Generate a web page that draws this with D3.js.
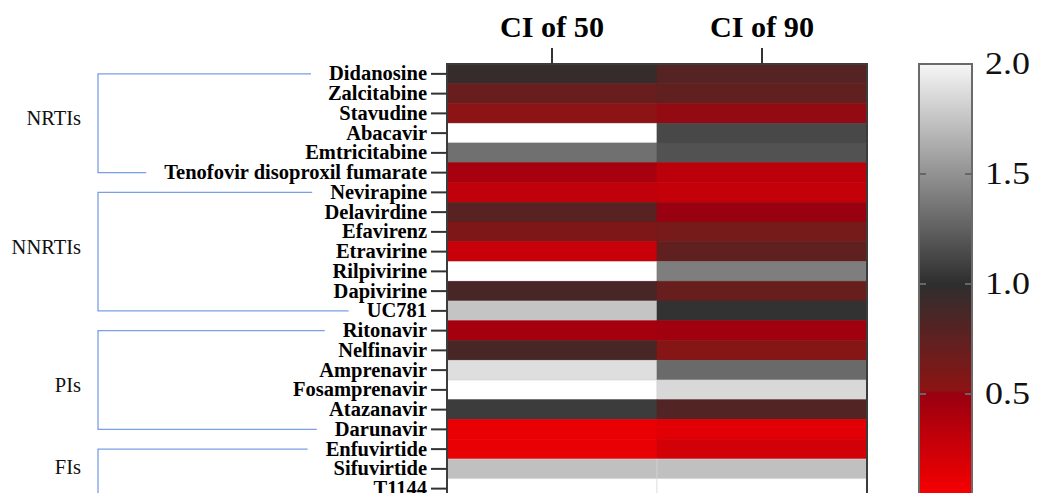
<!DOCTYPE html>
<html lang="en">
<head>
  <meta charset="UTF-8">
  <title>CI50 / CI90 heatmap</title>
  <script src="https://d3js.org/d3.v7.min.js"></script>
  <style>
    body { margin: 0; background: #fff; }
    svg { display: block; font-family: 'Liberation Serif', 'Times New Roman', serif; }
  </style>
</head>
<body>
  <svg width="1037" height="493"></svg>
  <script>
    const width = 1037, height = 493;

    // rows of the heatmap (top to bottom)
    const drugs = ["Didanosine", "Zalcitabine", "Stavudine", "Abacavir", "Emtricitabine",
      "Tenofovir disoproxil fumarate", "Nevirapine", "Delavirdine", "Efavirenz", "Etravirine",
      "Rilpivirine", "Dapivirine", "UC781", "Ritonavir", "Nelfinavir", "Amprenavir",
      "Fosamprenavir", "Atazanavir", "Darunavir", "Enfuvirtide", "Sifuvirtide", "T1144"];
    const columns = ["CI of 50", "CI of 90"];
    const ci50 = [0.96, 0.70, 0.52, 2.1, 1.33, 0.43, 0.31, 0.78, 0.59, 0.27,
      2.1, 0.86, 1.75, 0.44, 0.86, 1.88, 2.1, 1.07, 0.11, 0.11, 1.73, 2.1];
    const ci90 = [0.80, 0.74, 0.51, 1.13, 1.18, 0.33, 0.29, 0.50, 0.63, 0.74,
      1.40, 0.70, 1.02, 0.46, 0.55, 1.30, 1.85, 0.81, 0.15, 0.22, 1.73, 2.1];

    // drug classes: first row, last row (FIs runs past the visible rows), label row
    const groupNames = ["NRTIs", "NNRTIs", "PIs", "FIs"];
    const groupFirst = [0, 6, 13, 19];
    const groupLast = [5, 12, 18, 23];
    const groupLabelRow = [2.2, 8.75, 15.75, 19.9];

    const colorTicks = [0.5, 1.0, 1.5, 2.0];

    const color = d3.scaleLinear()
      .domain([0, 0.5, 0.52, 1.0, 2.0, 2.05])
      .range(["#ff0000", "#990010", "#8c1414", "#2e2e2e", "#f6f6f6", "#ffffff"])
      .clamp(true);

    const svg = d3.select("svg");

    const heat = { left: 447, right: 867, top: 64 };
    const rowH = 19.75;

    const x = d3.scaleBand().domain(columns).range([heat.left, heat.right]);
    const y = d3.scaleBand().domain(drugs).range([heat.top, heat.top + rowH * drugs.length]);

    const cells = [];
    drugs.forEach((d, i) => {
      cells.push({ drug: d, col: columns[0], v: ci50[i] });
      cells.push({ drug: d, col: columns[1], v: ci90[i] });
    });

    // Cells
    svg.append("g").selectAll("rect")
      .data(cells)
      .join("rect")
      .attr("x", d => x(d.col))
      .attr("y", d => y(d.drug))
      .attr("width", x.bandwidth())
      .attr("height", y.bandwidth())
      .attr("fill", d => color(d.v))
      .attr("stroke", d => d.v > 1.5 ? "#d4d4d4" : color(d.v))
      .attr("stroke-width", 0.6);

    // Frame
    svg.append("path")
      .attr("d", `M${heat.left},${height + 10} V${heat.top} H${heat.right} V${height + 10}`)
      .attr("fill", "none")
      .attr("stroke", "#3c3c3c")
      .attr("stroke-width", 2);

    // Row axis
    const yAxis = svg.append("g")
      .attr("transform", `translate(${heat.left},0)`)
      .call(d3.axisLeft(y).tickSize(16).tickPadding(4));
    yAxis.select(".domain").remove();
    yAxis.selectAll("line").attr("stroke", "#333").attr("stroke-width", 2);
    yAxis.selectAll("text")
      .attr("font-family", "'Liberation Serif', 'Times New Roman', serif")
      .attr("font-size", 20.5)
      .attr("font-weight", "bold")
      .attr("fill", "#000");

    // Column axis
    const xAxis = svg.append("g")
      .attr("transform", `translate(0,${heat.top})`)
      .call(d3.axisTop(x).tickSize(16).tickPadding(11));
    xAxis.select(".domain").remove();
    xAxis.selectAll("line").attr("stroke", "#333").attr("stroke-width", 2);
    xAxis.selectAll("text")
      .attr("font-family", "'Liberation Serif', 'Times New Roman', serif")
      .attr("font-size", 29)
      .attr("font-weight", "bold")
      .attr("fill", "#000")
      .attr("textLength", 104)
      .attr("lengthAdjust", "spacingAndGlyphs");

    // Class brackets
    const labelEnd = heat.left - 16 - 4;
    const textLen = {};
    yAxis.selectAll(".tick text").each(function (d) { textLen[d] = this.getComputedTextLength(); });
    const bracketX = 98, gap = 18;
    const bracketEnd = i => (i < drugs.length ? labelEnd - textLen[drugs[i]] - gap : bracketX + 60);
    const rowY = i => heat.top + rowH * (i + 0.5);

    const brackets = svg.append("g")
      .attr("fill", "none")
      .attr("stroke", "#7a9fe6")
      .attr("stroke-width", 1.3);
    groupNames.forEach((name, k) => {
      const y0 = rowY(groupFirst[k]), y1 = rowY(groupLast[k]);
      brackets.append("path")
        .attr("d", `M${bracketEnd(groupFirst[k])},${y0} H${bracketX} V${y1} H${bracketEnd(groupLast[k])}`);
      svg.append("text")
        .attr("x", 81)
        .attr("y", rowY(groupLabelRow[k]))
        .attr("dy", "0.35em")
        .attr("text-anchor", "end")
        .attr("font-size", 20.5)
        .attr("fill", "#111")
        .text(name);
    });

    // Colour bar
    const bar = { left: 919, width: 53 };
    const cy = d3.scaleLinear().domain([0, 2]).range([504, 64]);

    const grad = svg.append("defs").append("linearGradient")
      .attr("id", "cbar")
      .attr("x1", 0).attr("x2", 0).attr("y1", 1).attr("y2", 0);
    d3.range(0, 2.0001, 0.02).forEach(v => {
      grad.append("stop").attr("offset", v / 2).attr("stop-color", color(v));
    });

    svg.append("rect")
      .attr("x", bar.left)
      .attr("y", cy(2))
      .attr("width", bar.width)
      .attr("height", cy(0) - cy(2))
      .attr("fill", "url(#cbar)")
      .attr("stroke", "#6a6a6a")
      .attr("stroke-width", 2);

    svg.append("g").selectAll("path")
      .data(colorTicks)
      .join("path")
      .attr("d", d => `M${bar.left},${cy(d)} h7 M${bar.left + bar.width},${cy(d)} h-7`)
      .attr("stroke", "#666")
      .attr("stroke-width", 2)
      .attr("stroke-opacity", d => d === 2 ? 0.35 : 1);

    const cAxis = svg.append("g")
      .attr("transform", `translate(${bar.left + bar.width},0)`)
      .call(d3.axisRight(cy).tickValues(colorTicks).tickFormat(d3.format(".1f")).tickSize(0).tickPadding(13));
    cAxis.select(".domain").remove();
    cAxis.selectAll("text")
      .attr("font-family", "'Liberation Serif', 'Times New Roman', serif")
      .attr("font-size", 31)
      .attr("fill", "#111")
      .attr("textLength", 45)
      .attr("lengthAdjust", "spacingAndGlyphs");
  </script>
</body>
</html>
